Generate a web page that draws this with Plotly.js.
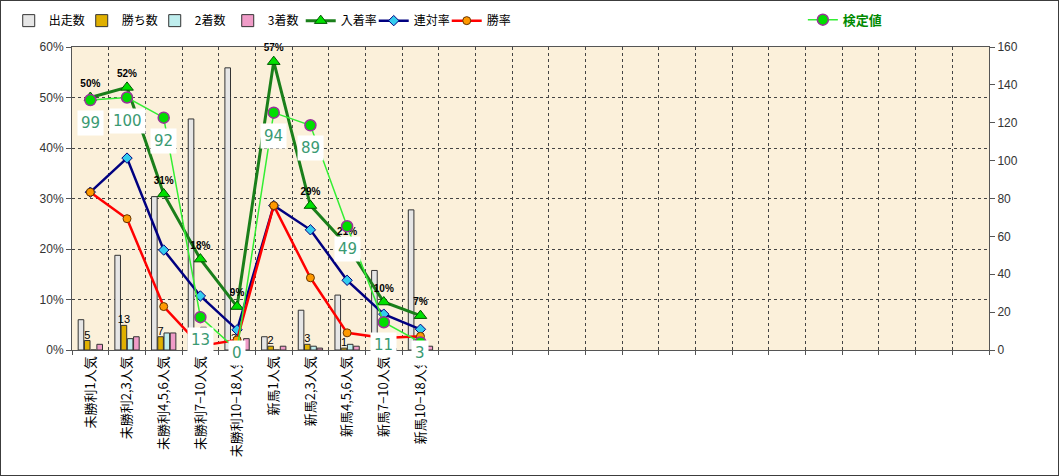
<!DOCTYPE html>
<html><head><meta charset="utf-8">
<script src="https://cdn.plot.ly/plotly-3.0.1.min.js"></script>
<style>html,body{margin:0;padding:0;background:#fff}#chart{width:1057px;height:474px;border:1px solid #3c3c3c}</style>
</head><body><div id="chart"></div>
<script>
const categories = ['未勝利1人気','未勝利2,3人気','未勝利4,5,6人気','未勝利7−10人気','未勝利10−18人気','新馬1人気','新馬2,3人気','新馬4,5,6人気','新馬7−10人気','新馬10−18人気'];
// 15 unlabeled empty slots that follow on the category axis
const blankSlots = Array.from({length:15}, (_, i) => ' '.repeat(i + 1));
const runs   = [16, 50, 81, 122, 149, 7, 21, 29, 42, 74];
const wins   = [5, 13, 7, 1, 3, 2, 3, 1, 1, 2];
const second = [0, 6, 9, 12, 3, 0, 2, 3, 2, 1];
const third  = [3, 7, 9, 9, 6, 2, 1, 2, 1, 2];
const placeRate = [0.50, 0.52, 0.309, 0.18, 0.086, 0.571, 0.286, 0.207, 0.095, 0.068];
const quinellaRate = [0.3125, 0.38, 0.198, 0.107, 0.040, 0.286, 0.238, 0.138, 0.071, 0.041];
const winRate = [0.3125, 0.26, 0.086, 0.008, 0.020, 0.286, 0.143, 0.034, 0.024, 0.027];
const testValue = [99, 100, 92, 13, 0, 94, 89, 49, 11, 3];

const jp = 'Noto Sans CJK JP';
const barLine = {color:'#333', width:1};
const traces = [
  {type:'bar', name:'出走数', x:categories, y:runs, yaxis:'y', marker:{color:'#e6e6e6', line:barLine}},
  {type:'bar', name:'勝ち数', x:categories, y:wins, yaxis:'y', marker:{color:'#e0b000', line:barLine},
   text:wins.map(String), textposition:'outside', constraintext:'none', cliponaxis:false,
   textfont:{size:11, color:'#000', family:'Liberation Sans'}},
  {type:'bar', name:'2着数', x:categories, y:second, yaxis:'y', marker:{color:'#bfeeee', line:barLine}},
  {type:'bar', name:'3着数', x:categories, y:third, yaxis:'y', marker:{color:'#f09cc8', line:barLine}},
  {type:'scatter', name:'入着率', x:categories, y:placeRate, yaxis:'y2', mode:'lines+markers+text',
   line:{color:'#1a7f1a', width:3}, marker:{symbol:'triangle-up', size:11, color:'#00e000', line:{color:'#005500', width:1}},
   texttemplate:'%{y:.0%}', textposition:'top center', cliponaxis:false,
   textfont:{size:10, color:'#000', family:'Liberation Sans', weight:'bold'}},
  {type:'scatter', name:'連対率', x:categories, y:quinellaRate, yaxis:'y2', mode:'lines+markers',
   line:{color:'#000080', width:2.5}, marker:{symbol:'diamond', size:8, color:'#33ccee', line:{color:'#000080', width:1}}},
  {type:'scatter', name:'勝率', x:categories, y:winRate, yaxis:'y2', mode:'lines+markers',
   line:{color:'#ff0000', width:2.5}, marker:{symbol:'circle', size:8, color:'#ff9900', line:{color:'#663300', width:1}}},
  {type:'scatter', name:'検定値', x:categories, y:testValue, yaxis:'y3', mode:'lines+markers', legend:'legend2',
   line:{color:'#33ee33', width:1.5}, marker:{symbol:'circle', size:11, color:'#00dd00', line:{color:'#993399', width:1.5}}, cliponaxis:false}
];

const annotations = testValue.map((v, i) => ({
  x: categories[i], y: Math.max(v - 8, 0), yshift:-3, xref:'x', yref:'y3', text:String(v), showarrow:false,
  bgcolor:'#ffffff', borderpad:3, font:{size:15, color:'#3a9a72', family:'DejaVu Sans'}
}));

const layout = {
  width:1057, height:474,
  margin:{l:71, r:69, t:46, b:125, autoexpand:false},
  paper_bgcolor:'#ffffff', plot_bgcolor:'#fbf0da',
  barmode:'group', bargap:0.32, bargroupgap:0.1,
  showlegend:true,
  legend:{orientation:'h', x:-0.069, xanchor:'left', y:1.087, yanchor:'middle', entrywidth:28, entrywidthmode:'pixels',
    font:{family:jp, size:12, color:'#000'}, bgcolor:'rgba(0,0,0,0)', itemwidth:30},
  legend2:{orientation:'h', x:0.797, xanchor:'left', y:1.09, yanchor:'middle',
    font:{family:jp, size:13, color:'#008a00', weight:'bold'}, bgcolor:'rgba(0,0,0,0)', itemwidth:30},
  xaxis:{type:'category', categoryorder:'array', categoryarray:categories.concat(blankSlots),
    range:[-0.5, 24.5], autorange:false, tickson:'boundaries', showgrid:true,
    griddash:'dot', gridcolor:'#444', gridwidth:1, tickangle:-90, ticks:'outside', ticklen:4, tickcolor:'#555',
    showline:true, linecolor:'#555', mirror:true, tickfont:{family:jp, size:13, color:'#000'}},
  yaxis:{side:'right', range:[0,160], autorange:false, dtick:20, tick0:0, showgrid:false, zeroline:false,
    ticks:'outside', ticklen:5, tickcolor:'#555', showline:true, linecolor:'#555',
    tickfont:{family:'Liberation Sans', size:12, color:'#333'}},
  yaxis2:{side:'left', overlaying:'y', range:[0,0.6], autorange:false, dtick:0.1, tick0:0, tickformat:'.0%',
    showgrid:true, griddash:'dot', gridcolor:'#444', gridwidth:1, zeroline:false,
    ticks:'outside', ticklen:5, tickcolor:'#555', showline:true, linecolor:'#555',
    tickfont:{family:'Liberation Sans', size:12, color:'#333'}},
  yaxis3:{overlaying:'y', range:[0,120], autorange:false, visible:false},
  annotations: annotations
};

Plotly.newPlot('chart', traces, layout, {displayModeBar:false, staticPlot:true});
</script></body></html>
